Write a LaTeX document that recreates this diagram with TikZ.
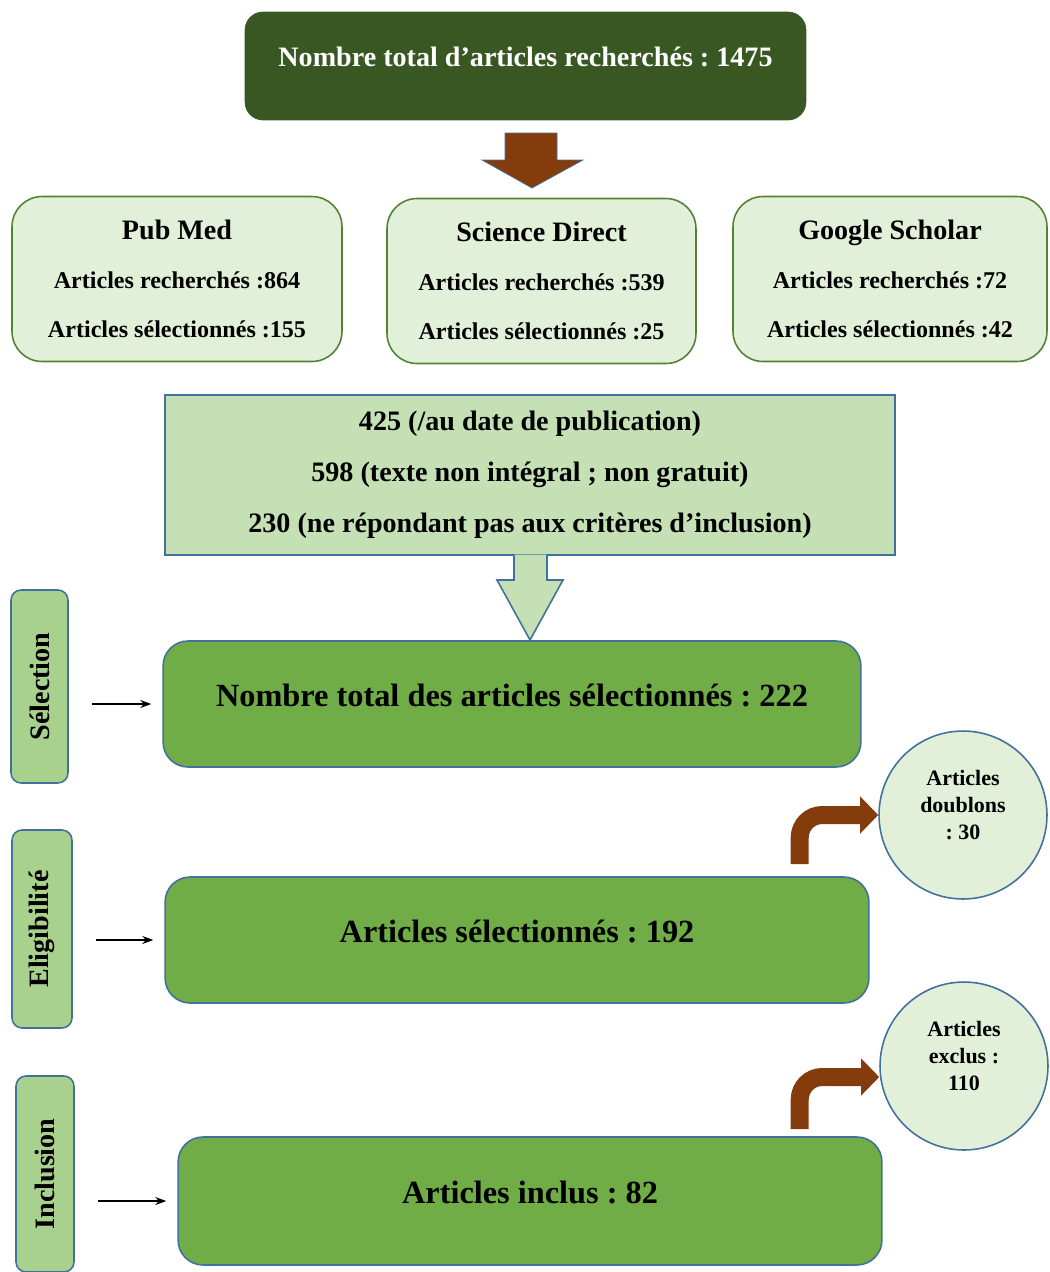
\documentclass[tikz,border=0pt]{standalone}
\usepackage{fontspec}
\setmainfont{Liberation Serif}
\usepackage{tikz}
\usetikzlibrary{positioning, arrows.meta, calc}
\frenchspacing

\definecolor{topgreen}{HTML}{385723}
\definecolor{srcfill}{HTML}{E2EFD9}
\definecolor{srcborder}{HTML}{548235}
\definecolor{exclfill}{HTML}{C5E0B4}
\definecolor{blueline}{HTML}{41719C}
\definecolor{stagefill}{HTML}{70AD47}
\definecolor{phasefill}{HTML}{A9D18E}
\definecolor{brownarrow}{HTML}{843C0C}

\begin{document}
\begin{tikzpicture}[
    x=0.02cm, y=-0.02cm,
    topbox/.style={draw=topgreen, fill=topgreen, rounded corners=0.36cm, text=white, font=\fontsize{16pt}{19pt}\selectfont\bfseries, minimum width=11.22cm, minimum height=2.16cm, text height=0.35cm, text depth=0.35cm},
    source/.style={draw=srcborder, fill=srcfill, line width=0.9pt, rounded corners=0.6cm, align=center, font=\fontsize{13.7pt}{27.8pt}\selectfont\bfseries, minimum height=3.3cm},
    excl/.style={draw=blueline, fill=exclfill, line width=0.9pt, align=center, font=\fontsize{16pt}{29pt}\selectfont\bfseries, minimum width=14.6cm, minimum height=3.2cm},
    stage/.style={draw=blueline, fill=stagefill, line width=0.9pt, rounded corners=0.5cm, font=\fontsize{18.4pt}{22pt}\selectfont\bfseries, minimum height=2.52cm, text height=0.46cm, text depth=0.37cm},
    phase/.style={draw=blueline, fill=phasefill, line width=0.9pt, rounded corners=0.2cm, rotate=90, font=\fontsize{16pt}{19pt}\selectfont\bfseries},
    outcome/.style={circle, draw=blueline, fill=srcfill, line width=0.9pt, minimum size=3.36cm, inner sep=0pt, align=center, font=\fontsize{12.5pt}{15.4pt}\selectfont\bfseries, text depth=0.42cm},
    smallarrow/.style={-{Stealth[length=0.22cm, width=0.16cm]}, line width=0.7pt, black, shorten <=0.46cm, shorten >=0.22cm},
    bentarrow/.style={draw=brownarrow, line width=0.36cm, rounded corners=0.45cm, -{Triangle[length=0.36cm, width=0.72cm]}}
]
\useasboundingbox (0,0) rectangle (1049,1272);

\node[topbox] (total) at (525.5, 66) {Nombre total d’articles recherchés : 1475};

\filldraw[fill=brownarrow, draw=blueline, line width=0.4pt] (505,133) -- (557,133) -- (557,160) -- (583,160) -- (532,188) -- (482,160) -- (505,160) -- cycle;

\node[source, minimum width=6.6cm] (pubmed) at (177, 279) {{\fontsize{16pt}{27.8pt}\selectfont Pub Med}\\Articles recherchés :864\\Articles sélectionnés :155};
\node[source, minimum width=6.18cm] (scidirect) at (541.5, 281) {{\fontsize{16pt}{27.8pt}\selectfont Science Direct}\\Articles recherchés :539\\Articles sélectionnés :25};
\node[source, minimum width=6.28cm] (scholar) at (890, 279) {{\fontsize{16pt}{27.8pt}\selectfont Google Scholar}\\Articles recherchés :72\\Articles sélectionnés :42};

\node[excl] (excluded) at (530, 475) {425 (/au date de publication)\\598 (texte non intégral ; non gratuit)\\230 (ne répondant pas aux critères d’inclusion)};

\filldraw[fill=exclfill, draw=blueline, line width=0.9pt] (514,554.5) -- (514,580) -- (497,580) -- (530,640) -- (563,580) -- (547,580) -- (547,554.5);

\node[stage, minimum width=13.96cm] (selstage) at (512, 704) {Nombre total des articles sélectionnés : 222};
\node[stage, minimum width=14.08cm] (eligstage) at (517, 940) {Articles sélectionnés : 192};
\node[stage, minimum width=14.08cm, minimum height=2.56cm] (inclstage) at (530, 1201) {Articles inclus : 82};

\node[phase, minimum width=3.86cm, minimum height=1.14cm] (sellabel) at (39.5, 686.5) {Sélection};
\node[phase, minimum width=3.96cm, minimum height=1.2cm] (eliglabel) at (42, 929) {Eligibilité};
\node[phase, minimum width=3.92cm, minimum height=1.16cm] (incllabel) at (45, 1174) {Inclusion};

\node[outcome] (doublons) at (963, 815) {Articles\\doublons\\: 30};
\node[outcome] (exclus) at (964, 1066) {Articles\\exclus :\\110};

\draw[smallarrow] (sellabel.south |- selstage.west) -- (selstage.west);
\draw[smallarrow] (eliglabel.south |- eligstage.west) -- (eligstage.west);
\draw[smallarrow] (incllabel.south |- inclstage.west) -- (inclstage.west);

\draw[bentarrow] ($(eligstage.north east)+(-70,-12)$) |- (doublons.west);
\draw[bentarrow] ($(inclstage.north east)+(-83,-7)$) |- ($(exclus.west)+(0,11)$);

\end{tikzpicture}
\end{document}
